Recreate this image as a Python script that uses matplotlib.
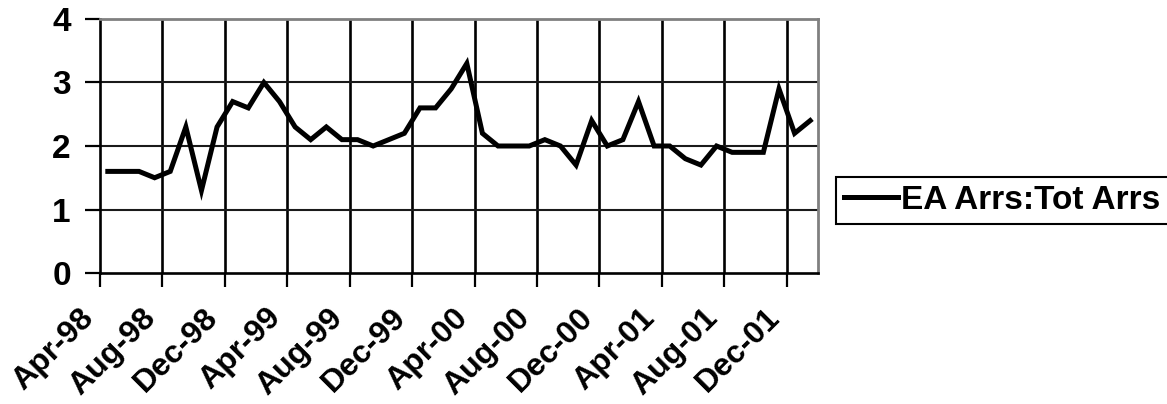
import matplotlib
matplotlib.use("Agg")
import matplotlib.pyplot as plt
import matplotlib.transforms as mtransforms
import numpy as np

plt.rcParams['font.family'] = ['Liberation Sans', 'DejaVu Sans']
plt.rcParams['font.weight'] = 'bold'

# monthly, Apr-98 .. Jan-02
ratio = [1.6, 1.6, 1.6, 1.5, 1.6, 2.3, 1.3, 2.3, 2.7, 2.6, 3.0, 2.7,
         2.3, 2.1, 2.3, 2.1, 2.1, 2.0, 2.1, 2.2, 2.6, 2.6, 2.9, 3.3,
         2.2, 2.0, 2.0, 2.0, 2.1, 2.0, 1.7, 2.4, 2.0, 2.1, 2.7, 2.0,
         2.0, 1.8, 1.7, 2.0, 1.9, 1.9, 1.9, 2.9, 2.2, 2.4]
labels = ['Apr-98', 'Aug-98', 'Dec-98', 'Apr-99', 'Aug-99', 'Dec-99',
          'Apr-00', 'Aug-00', 'Dec-00', 'Apr-01', 'Aug-01', 'Dec-01']
series_name = 'EA Arrs:Tot Arrs'

n = len(ratio)
x = np.arange(n)

fig = plt.figure(figsize=(11.67, 4.04), dpi=100)
ax = fig.add_axes([100/1167, 1-273/404, 718/1167, 254/404])

line, = ax.plot(x, ratio, color='black', lw=3.6, solid_joinstyle='miter')

ax.set_xlim(-0.5, n - 0.5)
ax.set_ylim(0, 4)

# gridlines between categories, labels on every 4th category
bounds = np.arange(-0.5, n - 1, 4)
ax.set_xticks(bounds)
ax.set_xticklabels([])
ax.set_xticks(np.arange(0, n, 4), minor=True)
ax.set_xticklabels(labels, minor=True, rotation=45, ha='right', va='center',
                   rotation_mode='anchor', fontsize=23, fontweight='bold')
ax.tick_params(axis='x', which='minor', length=0, pad=29)
ax.tick_params(axis='x', which='major', length=10, width=1.6, color='black')
shift = mtransforms.ScaledTranslation(-19/100, 0, fig.dpi_scale_trans)
for lab in ax.get_xticklabels(minor=True):
    lab.set_transform(lab.get_transform() + shift)
for b in bounds[1:]:
    ax.axvline(b, color='black', lw=1.9, zorder=1)

ax.set_yticks([0, 1, 2, 3, 4])
ax.set_yticklabels(['0', '1', '2', '3', '4'], fontsize=24, fontweight='bold')
ax.tick_params(axis='y', length=11, width=1.6, color='black', pad=10)
for v in [1, 2, 3]:
    ax.axhline(v, color='#1a1a1a', lw=1.5, zorder=1)

ax.spines['left'].set_color('black')
ax.spines['bottom'].set_color('black')
ax.spines['left'].set_linewidth(1.9)
ax.spines['bottom'].set_linewidth(1.9)
ax.spines['top'].set_color('#808080')
ax.spines['right'].set_color('#808080')
ax.spines['top'].set_linewidth(2)
ax.spines['right'].set_linewidth(2)

leg = fig.legend([line], [series_name], loc='center left',
                 bbox_to_anchor=(836/1167, 1-200.5/404),
                 prop={'size': 24, 'weight': 'bold'},
                 frameon=True, fancybox=False, edgecolor='black',
                 framealpha=1, borderpad=0.25, handlelength=1.6,
                 handletextpad=0.1, borderaxespad=0)
leg.get_frame().set_linewidth(1.5)

fig.savefig('out.png', dpi=100)
